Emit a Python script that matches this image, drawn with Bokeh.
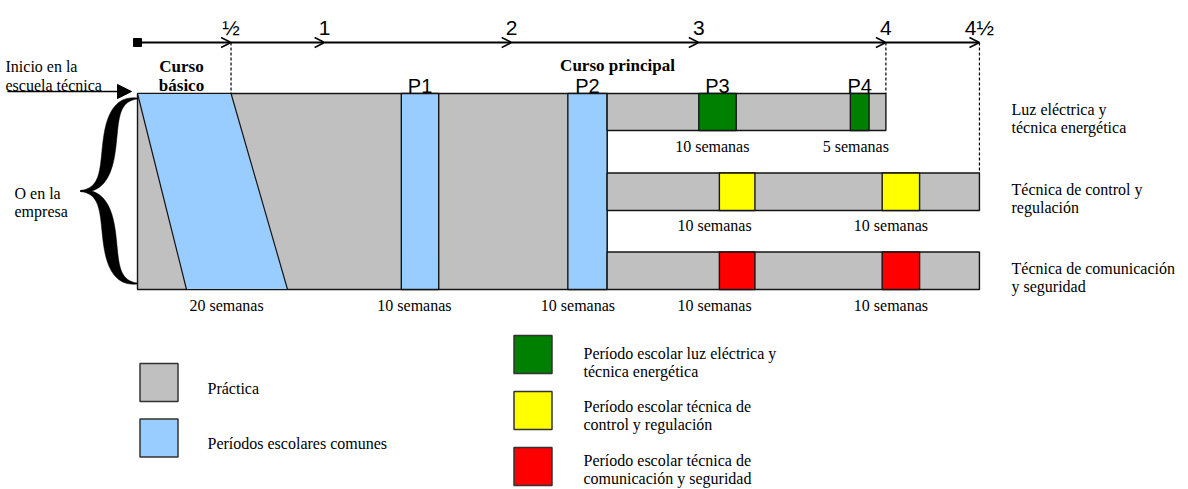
import math
from bokeh.plotting import figure
from bokeh.models import Range1d, Arrow, OpenHead, NormalHead, ColumnDataSource
from bokeh.core.properties import value
from bokeh.embed import file_html
from bokeh.resources import INLINE

# ---------------- data (time in years) ----------------
TICK_YEARS = [0.5, 1, 2, 3, 4, 4.5]
TICK_LABELS = ["½", "1", "2", "3", "4", "4½"]

BASIC_TOP = [0.0, 0.5]          # basic course, start/end at top edge
BASIC_BOTTOM = [0.262, 0.802]   # basic course, start/end at bottom edge
BASIC_WEEKS = 20

COMMON_NAMES = ["P1", "P2"]
COMMON_START = [1.41, 2.30]
COMMON_STOP = [1.61, 2.51]
COMMON_WEEKS = [10, 10]

TRACK_NAMES = [["Luz eléctrica y", "técnica energética"],
               ["Técnica de control y", "regulación"],
               ["Técnica de comunicación", "y seguridad"]]
TRACK_END = [4.0, 4.5, 4.5]
TRACK_COLORS = ["#008000", "#FFFF00", "#FF0000"]
TRACK_START = [[3.00, 3.81], [3.11, 3.98], [3.11, 3.98]]
TRACK_STOP = [[3.20, 3.91], [3.30, 4.18], [3.30, 4.18]]
TRACK_WEEKS = [[10, 5], [10, 10], [10, 10]]
TRACK_PNAMES = ["P3", "P4"]

LEGEND_LEFT = ["Práctica", "Períodos escolares comunes"]
LEGEND_RIGHT = [["Período escolar luz eléctrica y", "técnica energética"],
                ["Período escolar técnica de", "control y regulación"],
                ["Período escolar técnica de", "comunicación y seguridad"]]

GREY = "#C0C0C0"
BLUE = "#99CCFF"
EDGE = "#141414"
SERIF = value("Liberation Serif")
SANS = value("Liberation Sans")

# ---------------- layout (pixels) ----------------
X0_PX, PX_PER_YEAR = 137.0, 187.1
W, H = 1188, 489
MAIN_Y = (93, 289)
ROW_Y = [(93, 130), (172.5, 210), (251.5, 289)]
TIMELINE_Y = 42
MAIN_LABEL_X = [0.476, 1.48, 2.354]
TRACK_LABEL_X = [[3.072, 3.839], [3.084, 4.027], [3.084, 4.027]]
TRACK_LABEL_Y = [146, 225, 305]

p = figure(width=W, height=H, output_backend="svg", toolbar_location=None,
           x_range=Range1d((0 - X0_PX) / PX_PER_YEAR, (W - X0_PX) / PX_PER_YEAR),
           y_range=Range1d(H, 0), min_border=0,
           x_axis_location=None, y_axis_location=None)
p.extra_x_ranges = {"px": Range1d(0, W)}
p.grid.visible = False
p.outline_line_color = None
p.background_fill_color = "white"

common_end = COMMON_STOP[-1]

# main practice block
p.quad(left=[BASIC_TOP[0]], right=[common_end], top=[MAIN_Y[0]], bottom=[MAIN_Y[1]],
       fill_color=GREY, line_color=EDGE, line_width=1.4)
# basic course parallelogram
p.patch(x=[BASIC_TOP[0], BASIC_TOP[1], BASIC_BOTTOM[1], BASIC_BOTTOM[0]],
        y=[MAIN_Y[0], MAIN_Y[0], MAIN_Y[1], MAIN_Y[1]],
        fill_color=BLUE, line_color=EDGE, line_width=1.2)
# common school periods
p.quad(left=COMMON_START, right=COMMON_STOP, top=[MAIN_Y[0]] * 2, bottom=[MAIN_Y[1]] * 2,
       fill_color=BLUE, line_color=EDGE, line_width=1.4)

# specialisation tracks
for i in range(3):
    yt, yb = ROW_Y[i]
    p.quad(left=[common_end], right=[TRACK_END[i]], top=[yt], bottom=[yb],
           fill_color=GREY, line_color=EDGE, line_width=1.4)
    p.quad(left=TRACK_START[i], right=TRACK_STOP[i], top=[yt] * 2, bottom=[yb] * 2,
           fill_color=TRACK_COLORS[i], line_color=EDGE, line_width=1.4)
    p.text(x=TRACK_LABEL_X[i], y=[TRACK_LABEL_Y[i]] * 2,
           text=[f"{w} semanas" for w in TRACK_WEEKS[i]],
           text_font=SERIF, text_font_size="16px", text_align="center",
           text_baseline="alphabetic", text_color="black")
    p.text(x=[1011, 1011], y=[(yt + 16), (yt + 34)], text=TRACK_NAMES[i],
           x_range_name="px", text_font=SERIF, text_font_size="16px",
           text_align="left", text_baseline="alphabetic", text_color="black")

# main-block week labels
p.text(x=MAIN_LABEL_X, y=[305] * 3,
       text=[f"{w} semanas" for w in [BASIC_WEEKS] + COMMON_WEEKS],
       text_font=SERIF, text_font_size="16px", text_align="center",
       text_baseline="alphabetic", text_color="black")

# P labels
pl_x = [(a + b) / 2 for a, b in zip(COMMON_START, COMMON_STOP)] + \
       [(a + b) / 2 for a, b in zip(TRACK_START[0], TRACK_STOP[0])]
p.text(x=pl_x, y=[85] * 4, text=COMMON_NAMES + TRACK_PNAMES, text_font=SANS,
       text_font_size="20px", text_align="center", text_baseline="alphabetic",
       text_color="black")

# dashed guide lines
p.segment(x0=[BASIC_TOP[1], TRACK_END[0], TRACK_END[1]],
          x1=[BASIC_TOP[1], TRACK_END[0], TRACK_END[1]],
          y0=[TIMELINE_Y] * 3, y1=[MAIN_Y[0], ROW_Y[0][0], ROW_Y[1][0]],
          line_color="black", line_width=1.2, line_dash="3 2")

# timeline
starts = [0.0] + TICK_YEARS[:-1]
src = ColumnDataSource(dict(x0=starts, x1=TICK_YEARS, y0=[TIMELINE_Y] * len(starts),
                            y1=[TIMELINE_Y] * len(starts)))
p.add_layout(Arrow(source=src, x_start="x0", x_end="x1", y_start="y0", y_end="y1",
                   line_color="black", line_width=2,
                   end=OpenHead(size=10, line_color="black", line_width=1.4)))
p.scatter(x=[0.0], y=[TIMELINE_Y], marker="square", size=8, color="black")
p.text(x=TICK_YEARS, y=[27] * len(TICK_YEARS), text=TICK_LABELS, text_font=SANS,
       text_font_size="21px", text_align="center", text_baseline="alphabetic",
       text_color="black")

# headings
p.text(x=[181, 181], y=[66, 85], text=["Curso", "básico"], x_range_name="px",
       text_font=SERIF, text_font_size="17px", text_font_style="bold",
       text_align="center", text_baseline="alphabetic", text_color="black")
p.text(x=[617], y=[65], text=["Curso principal"], x_range_name="px",
       text_font=SERIF, text_font_size="17px", text_font_style="bold",
       text_align="center", text_baseline="alphabetic", text_color="black")

# left side texts
p.text(x=[5, 5], y=[66, 85], text=["Inicio en la", "escuela técnica"], x_range_name="px",
       text_font=SERIF, text_font_size="16px", text_align="left",
       text_baseline="alphabetic", text_color="black")
p.text(x=[14, 14], y=[193, 211], text=["O en la", "empresa"], x_range_name="px",
       text_font=SERIF, text_font_size="16px", text_align="left",
       text_baseline="alphabetic", text_color="black")
p.add_layout(Arrow(x_start=7, x_end=131, y_start=91, y_end=91, x_range_name="px",
                   line_color="black", line_width=1.4,
                   end=NormalHead(size=14, fill_color="black", line_color="black")))


# curly brace (decoration): two tapered halves built from a cubic Bezier centre line
def brace_half(tip_x, tip_y, point_x, mid_y, max_w, n=60):
    p0, p1 = (tip_x, tip_y), (tip_x - 46, tip_y)
    p2, p3 = (tip_x - 10, mid_y), (point_x, mid_y)
    side_a, side_b = [], []
    for k in range(n + 1):
        t = k / n
        u = 1 - t
        cx = u**3 * p0[0] + 3 * u * u * t * p1[0] + 3 * u * t * t * p2[0] + t**3 * p3[0]
        cy = u**3 * p0[1] + 3 * u * u * t * p1[1] + 3 * u * t * t * p2[1] + t**3 * p3[1]
        dx = 3 * u * u * (p1[0] - p0[0]) + 6 * u * t * (p2[0] - p1[0]) + 3 * t * t * (p3[0] - p2[0])
        dy = 3 * u * u * (p1[1] - p0[1]) + 6 * u * t * (p2[1] - p1[1]) + 3 * t * t * (p3[1] - p2[1])
        norm = math.hypot(dx, dy) or 1.0
        nx, ny = -dy / norm, dx / norm
        w = 1.0 + max_w * math.sin(math.pi * t) ** 1.1
        side_a.append((cx + nx * w / 2, cy + ny * w / 2))
        side_b.append((cx - nx * w / 2, cy - ny * w / 2))
    pts = side_a + side_b[::-1]
    return [q[0] for q in pts], [q[1] for q in pts]


mid = (98 + 283) / 2
ux, uy = brace_half(137, 98, 80, mid, 12.5)
lx, ly = brace_half(137, 283, 80, mid, 12.5)
p.patches(xs=[ux, lx], ys=[uy, ly], x_range_name="px", fill_color="black",
          line_color="black", line_width=0.5)

# legend
p.quad(left=[139.5, 139.5], right=[177.5, 177.5], top=[363, 418.5], bottom=[401, 456.5],
       x_range_name="px", fill_color=[GREY, BLUE], line_color="#333333", line_width=1.5)
p.text(x=[207, 207], y=[388, 443], text=LEGEND_LEFT, x_range_name="px",
       text_font=SERIF, text_font_size="16px", text_align="left",
       text_baseline="alphabetic", text_color="black")
p.quad(left=[513.5] * 3, right=[551.5] * 3, top=[335, 391, 447], bottom=[373, 429, 485],
       x_range_name="px", fill_color=TRACK_COLORS, line_color="#333333", line_width=1.5)
for j, yb in enumerate([352.5, 406, 459.5]):
    p.text(x=[583, 583], y=[yb, yb + 18], text=LEGEND_RIGHT[j], x_range_name="px",
           text_font=SERIF, text_font_size="16px", text_align="left",
           text_baseline="alphabetic", text_color="black")

open("out.html", "w").write(file_html(p, INLINE))
